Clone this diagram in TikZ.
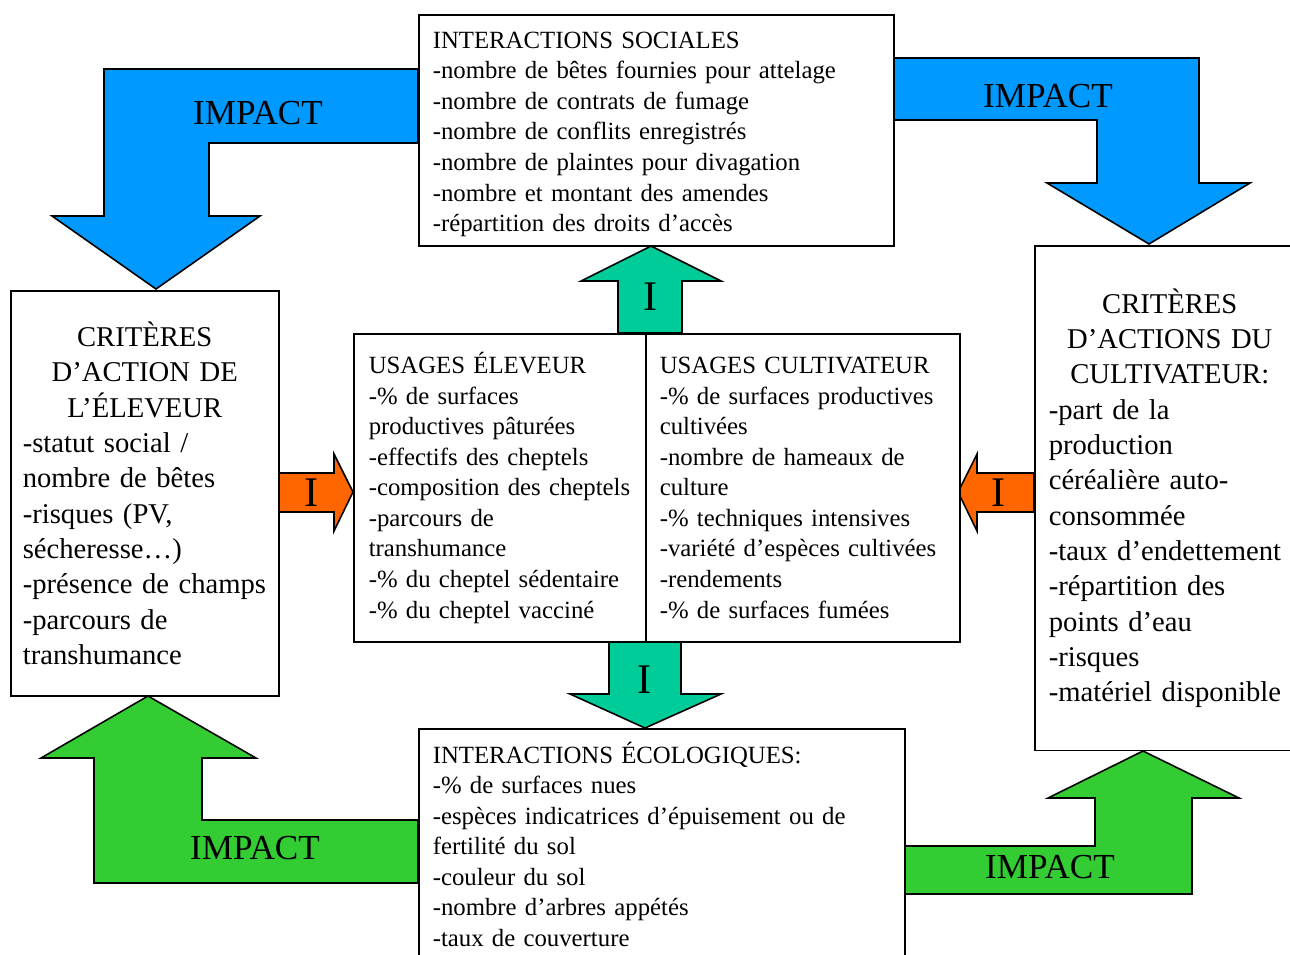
\documentclass[tikz,border=0pt]{standalone}
\usepackage{fontspec}
\setmainfont{Liberation Serif}
\usepackage{tikz}
\usetikzlibrary{positioning}
\definecolor{impactblue}{RGB}{0,153,255}
\definecolor{impactgreen}{RGB}{51,204,51}
\definecolor{usageteal}{RGB}{0,204,153}
\definecolor{usageorange}{RGB}{255,102,0}
\setlength{\parindent}{0pt}
\hyphenpenalty=10000
\exhyphenpenalty=10000

\begin{document}
\begin{tikzpicture}[x=0.02cm, y=-0.02cm,
        box/.style={draw, line width=0.9pt, fill=white, anchor=north west, inner ysep=0pt},
        smalltext/.style={font=\fontsize{14.1pt}{17.4pt}\selectfont},
        bigtext/.style={font=\fontsize{16.3pt}{20.1pt}\selectfont},
        bigarrow/.style={line width=0.9pt, line join=miter},
        impactlabel/.style={font=\fontsize{20pt}{24pt}\selectfont, inner sep=0pt},
        ilabel/.style={font=\fontsize{24pt}{30pt}\selectfont, inner sep=0pt}
    ]
        \useasboundingbox (0,0) rectangle (1290,954);

        % 1. Impact arrows
        \filldraw[bigarrow, fill=impactblue] (418,69) -- (104,69) -- (104,216) -- (52,216) -- (156,289)
            -- (260,216) -- (209,216) -- (209,143) -- (418,143) -- cycle;
        \node[impactlabel] (impactA) at (258,113) {IMPACT};
        \filldraw[bigarrow, fill=impactblue] (893,58) -- (1199,58) -- (1199,183) -- (1250,183) -- (1149,244)
            -- (1047,183) -- (1097,183) -- (1097,120) -- (893,120) -- cycle;
        \node[impactlabel] (impactB) at (1048,96) {IMPACT};
        \filldraw[bigarrow, fill=impactgreen] (418,820) -- (202,820) -- (202,758) -- (256,758) -- (148,696)
            -- (41,758) -- (94,758) -- (94,883) -- (418,883) -- cycle;
        \node[impactlabel] (impactC) at (255,848) {IMPACT};
        \filldraw[bigarrow, fill=impactgreen] (904,846) -- (1095,846) -- (1095,798) -- (1048,798) -- (1143,751)
            -- (1239,798) -- (1192,798) -- (1192,894) -- (904,894) -- cycle;
        \node[impactlabel] (impactD) at (1050,867) {IMPACT};

        % 2. Small I arrows
        \filldraw[bigarrow, fill=usageteal] (618,333) -- (618,281) -- (581,281) -- (651,246) -- (721,281)
            -- (682,281) -- (682,333) -- cycle;
        \node[ilabel] (iup) at (651,297) {I};
        \filldraw[bigarrow, fill=usageteal] (609,641) -- (609,694) -- (570,694) -- (645,728) -- (721,694)
            -- (681,694) -- (681,641) -- cycle;
        \node[ilabel] (idown) at (645,680) {I};
        \filldraw[bigarrow, fill=usageorange] (278,473) -- (334,473) -- (334,454) -- (353,492) -- (334,531)
            -- (334,512) -- (278,512) -- cycle;
        \node[ilabel] (ileft) at (312,493) {I};
        \filldraw[bigarrow, fill=usageorange] (1034,473) -- (977,473) -- (977,454) -- (958,492) -- (977,531)
            -- (977,512) -- (1034,512) -- cycle;
        \node[ilabel] (iright) at (999,493) {I};

        % 3. Interactions sociales
        \node[box, smalltext, align=left, inner xsep=0.28cm, text width=8.94cm, minimum width=9.5cm,
            minimum height=4.62cm] (social) at (418,14) {\rule{0pt}{0.49cm}INTERACTIONS SOCIALES\\
            -nombre de bêtes fournies pour attelage\\
            -nombre de contrats de fumage\\
            -nombre de conflits enregistrés\\
            -nombre de plaintes pour divagation\\
            -nombre et montant des amendes\\
            -répartition des droits d’accès};

        % 4. Criteres eleveur
        \node[box, bigtext, inner xsep=0.24cm, text width=4.88cm, minimum width=5.36cm,
            minimum height=8.1cm] (eleveur) at (10,290) {\centering CRITÈRES\\D’ACTION DE\\L’ÉLEVEUR\par
            \raggedright -statut social /\\nombre de bêtes\\-risques (PV,\\sécheresse…)\\
            -présence de champs\\-parcours de\\transhumance};

        % 5. Criteres cultivateur
        \node[box, bigtext, inner xsep=0.28cm, text width=4.84cm, minimum width=5.4cm,
            minimum height=10.1cm] (cultivateur) at (1034,245) {\centering CRITÈRES\\D’ACTIONS DU\\CULTIVATEUR:\par
            \raggedright -part de la\\production\\céréalière auto-\\consommée\\-taux d’endettement\\
            -répartition des\\points d’eau\\-risques\\-matériel disponible};

        % 6. Usages
        \node[box, smalltext, align=left, inner xsep=0.3cm, text width=5.24cm, minimum width=5.84cm,
            minimum height=6.16cm] (usageseleveur) at (353,333) {USAGES ÉLEVEUR\\
            -\% de surfaces\\productives pâturées\\-effectifs des cheptels\\
            -composition~des~cheptels\\-parcours de\\transhumance\\
            -\% du cheptel sédentaire\\-\% du cheptel vacciné};
        \node[box, smalltext, align=left, inner xsep=0.28cm, text width=5.72cm, minimum width=6.28cm,
            minimum height=6.16cm] (usagescultivateur) at (645,333) {USAGES CULTIVATEUR\\
            -\% de surfaces productives\\cultivées\\-nombre de hameaux de\\culture\\
            -\% techniques intensives\\-variété d’espèces cultivées\\-rendements\\
            -\% de surfaces fumées};

        % 7. Interactions ecologiques
        \node[box, smalltext, align=left, inner xsep=0.28cm, text width=9.16cm, minimum width=9.72cm,
            minimum height=4.62cm] (ecologie) at (418,728) {INTERACTIONS ÉCOLOGIQUES:\\
            -\% de surfaces nues\\
            -espèces indicatrices d’épuisement ou de\\fertilité du sol\\
            -couleur du sol\\
            -nombre d’arbres appétés\\
            -taux de couverture};

    \end{tikzpicture}
\end{document}
